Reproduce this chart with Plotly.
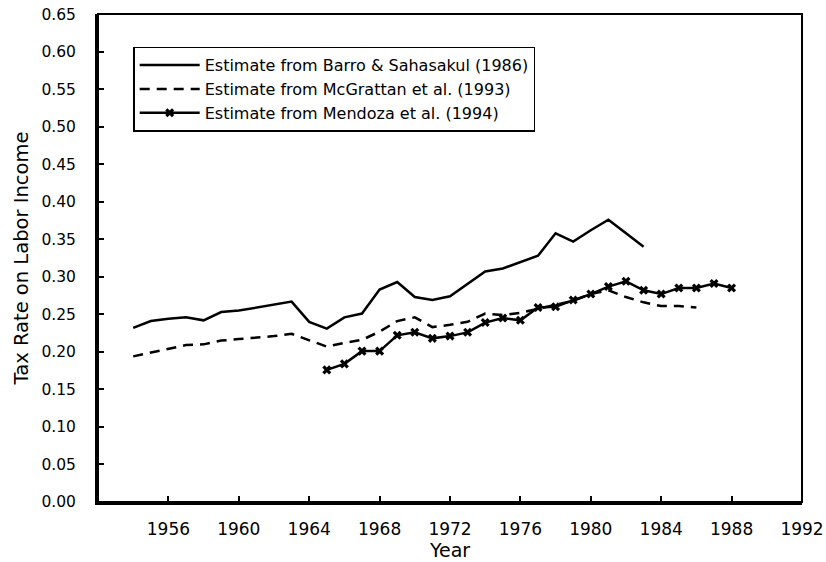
import plotly.graph_objects as go

# Labor income tax rate estimates
barro_years = list(range(1954, 1984))
barro_rate = [0.232, 0.241, 0.244, 0.246, 0.242, 0.253, 0.255, 0.259, 0.262, 0.267,
              0.240, 0.231, 0.246, 0.251, 0.283, 0.293, 0.273, 0.269, 0.274, 0.291,
              0.307, 0.311, 0.319, 0.328, 0.358, 0.347, 0.362, 0.376, 0.358, 0.340]

mcgrattan_years = list(range(1954, 1987))
mcgrattan_rate = [0.194, 0.199, 0.204, 0.209, 0.210, 0.215, 0.217, 0.219, 0.221, 0.224,
                  0.215, 0.207, 0.212, 0.216, 0.227, 0.241, 0.246, 0.233, 0.236, 0.240,
                  0.251, 0.249, 0.252, 0.257, 0.262, 0.268, 0.277, 0.282, 0.273, 0.266,
                  0.261, 0.261, 0.259]

mendoza_years = list(range(1965, 1989))
mendoza_rate = [0.176, 0.184, 0.201, 0.201, 0.222, 0.226, 0.218, 0.221, 0.226, 0.239,
                0.245, 0.242, 0.259, 0.260, 0.269, 0.277, 0.287, 0.294, 0.282, 0.277,
                0.285, 0.285, 0.291, 0.285]

x_ticks = [1956, 1960, 1964, 1968, 1972, 1976, 1980, 1984, 1988, 1992]
y_ticks = [0.00, 0.05, 0.10, 0.15, 0.20, 0.25, 0.30, 0.35, 0.40, 0.45, 0.50, 0.55, 0.60, 0.65]

FONT = "DejaVu Sans"

fig = go.Figure()

fig.add_trace(go.Scatter(
    x=barro_years, y=barro_rate, mode="lines",
    name="Estimate from Barro & Sahasakul (1986)",
    line=dict(color="black", width=2.5),
))
fig.add_trace(go.Scatter(
    x=mcgrattan_years, y=mcgrattan_rate, mode="lines",
    name="Estimate from McGrattan et al. (1993)",
    line=dict(color="black", width=2.5, dash="10px,7px"),
))
fig.add_trace(go.Scatter(
    x=mendoza_years, y=mendoza_rate, mode="lines+markers",
    name="Estimate from Mendoza et al. (1994)",
    line=dict(color="black", width=2.5),
    marker=dict(symbol="x", size=8, color="black"),
))

fig.update_layout(
    width=826, height=562,
    margin=dict(l=98, r=24, t=14, b=60),
    paper_bgcolor="white", plot_bgcolor="white",
    font=dict(family=FONT, size=15, color="black"),
    legend=dict(
        x=0.05, y=0.933, xanchor="left", yanchor="top",
        bordercolor="black", borderwidth=1.5, bgcolor="white",
        font=dict(family=FONT, size=16, color="black"),
        tracegroupgap=0, itemwidth=60,
    ),
    shapes=[dict(type="rect", xref="paper", yref="paper", x0=0, y0=0, x1=1, y1=1,
                 line=dict(color="black", width=2), layer="above")],
)

fig.update_xaxes(
    range=[1952, 1992], tickvals=x_ticks, tickfont=dict(size=17),
    showline=True, linecolor="black", linewidth=3,
    ticks="inside", ticklen=6, tickwidth=1.5, tickcolor="black",
    ticklabelstandoff=10, showgrid=False, zeroline=False, automargin=False,
    title=dict(text="Year", standoff=4, font=dict(size=19)),
)
fig.update_yaxes(
    range=[0, 0.6501], tickvals=y_ticks, tickformat=".2f", tickfont=dict(size=15.5),
    showline=True, linecolor="black", linewidth=3,
    ticks="inside", ticklen=6, tickwidth=1.5, tickcolor="black",
    ticklabelstandoff=16, showgrid=False, zeroline=False, automargin=False,
    title=dict(text="Tax Rate on Labor Income", standoff=8, font=dict(size=19.5)),
)

# drop the default page margin so the figure fills the window exactly
fig.write_html(
    "out.html",
    config={"displayModeBar": False},
    post_script="document.body.style.margin='0px';document.body.style.overflow='hidden';",
)
